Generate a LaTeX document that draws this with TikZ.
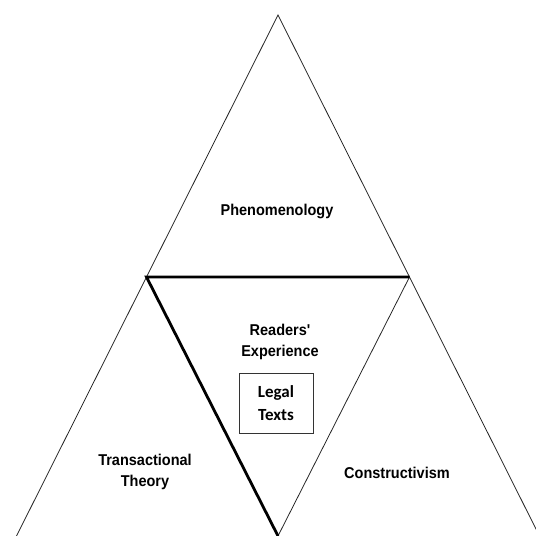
\documentclass[tikz,border=0pt]{standalone}
\usepackage{fontspec}
\setmainfont{Liberation Sans}
\newfontfamily\carl{Carlito}
\begin{document}
\begin{tikzpicture}[x=1pt,y=-1pt,
  thinline/.style={line width=0.8pt,black!85},
  thickline/.style={line width=2.8pt,black},
  lbl/.style={font=\fontsize{14.5}{19.5}\selectfont\bfseries,align=center,inner sep=0pt,yscale=1.08},
  boxlbl/.style={font=\carl\fontsize{17}{23}\selectfont\bfseries,align=center,inner sep=0pt}]
\useasboundingbox (0,0) rectangle (536,536);
\clip (0,0) rectangle (536,536);
\coordinate (top) at (278,15);
\coordinate (L) at (146.5,277);
\coordinate (R) at (409.5,277);
\coordinate (B) at (278,536);
\coordinate (BL) at (16.5,536);
\coordinate (BR) at (539.5,536);
\draw[thinline] (BL) -- (top) -- (BR);
\draw[thinline] (R) -- (B);
\draw[thickline,line join=miter] (R) -- (L) -- (B);
\node[draw,line width=0.8pt,black!80,minimum width=74pt,minimum height=60pt,inner sep=0pt] (box) at (276,403) {};
\node[boxlbl] (legal) at (box.center) {Legal\\Texts};
\node[lbl] (phen) at (277,211) {Phenomenology};
\node[lbl] (read) at (280,342) {Readers\textquotesingle\\Experience};
\node[lbl] (trans) at (145,472) {Transactional\\Theory};
\node[lbl] (cons) at (397,473) {Constructivism};
\end{tikzpicture}
\end{document}
